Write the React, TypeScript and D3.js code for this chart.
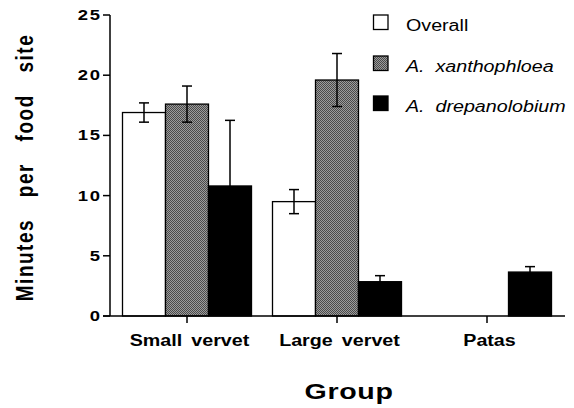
import React from "react";
import * as d3 from "d3";

const categories = ["Small vervet", "Large vervet", "Patas"];
const seriesNames = ["Overall", "A.  xanthophloea", "A.  drepanolobium"];
const overall = [16.9, 9.5, 0];
const overallErr = [0.8, 1.0, 0];
const xanthophloea = [17.6, 19.6, 0];
const xanthophloeaErr = [1.5, 2.2, 0];
const drepanolobium = [10.8, 2.85, 3.65];
const drepanolobiumErr = [5.45, 0.5, 0.45];
const yTicks = [0, 5, 10, 15, 20, 25];

const W = 574;
const H = 408;
const FONT = "'Liberation Sans', Arial, Helvetica, sans-serif";
const SX = 1.23; // horizontal stretch of the scanned original

export default function App() {
  const y = d3.scaleLinear().domain([0, 25]).range([316, 15]);
  const xGroup = d3.scaleBand<string>().domain(categories).range([112, 562]).paddingInner(0).paddingOuter(0);
  const keys = ["o", "x", "d"];
  const subWidth = 129;
  const xSub = d3.scaleBand<string>().domain(keys).range([0, subWidth]);
  const values: Record<string, number[]> = { o: overall, x: xanthophloea, d: drepanolobium };
  const errs: Record<string, number[]> = { o: overallErr, x: xanthophloeaErr, d: drepanolobiumErr };
  const fills: Record<string, string> = { o: "#ffffff", x: "url(#checker)", d: "#000000" };

  const bars: React.ReactNode[] = [];
  const errBars: React.ReactNode[] = [];
  categories.forEach((c, ci) => {
    keys.forEach((k) => {
      const v = values[k][ci];
      if (!v) return;
      const x0 = (xGroup(c) as number) + (xGroup.bandwidth() - subWidth) / 2 + (xSub(k) as number);
      const bw = xSub.bandwidth();
      bars.push(
        <rect key={c + k} x={x0} y={y(v)} width={bw} height={y(0) - y(v)} fill={fills[k]} stroke="#000" strokeWidth={1.3} />
      );
      const e = errs[k][ci];
      if (e) {
        const cx = x0 + bw / 2;
        errBars.push(
          <g key={"e" + c + k} stroke="#000" strokeWidth={1.5}>
            <line x1={cx} x2={cx} y1={y(v + e)} y2={y(v - e)} />
            <line x1={cx - 5} x2={cx + 5} y1={y(v + e)} y2={y(v + e)} />
            <line x1={cx - 5} x2={cx + 5} y1={y(v - e)} y2={y(v - e)} />
          </g>
        );
      }
    });
  });

  const legendY = [15, 56, 96];
  const legendFill = ["#ffffff", "url(#checker)", "#000000"];

  return (
    <svg width={W} height={H} style={{ position: "absolute", left: 0, top: 0, background: "#fff" }} fontFamily={FONT}>
      <defs>
        <pattern id="checker" width={2} height={2} patternUnits="userSpaceOnUse">
          <rect width={2} height={2} fill="#9c9c9c" />
          <rect width={1} height={1} fill="#4a4a4a" />
          <rect x={1} y={1} width={1} height={1} fill="#4a4a4a" />
        </pattern>
      </defs>

      {bars}
      {errBars}

      {/* y axis */}
      <line x1={110} x2={110} y1={y(25)} y2={y(0)} stroke="#000" strokeWidth={1.5} />
      {yTicks.map((t) => (
        <g key={t}>
          <line x1={103} x2={110} y1={y(t)} y2={y(t)} stroke="#000" strokeWidth={1.5} />
          <text
            transform={`translate(100,${y(t)}) scale(${SX},1)`}
            textAnchor="end"
            dominantBaseline="central"
            fontSize={15}
            fontWeight="bold"
            letterSpacing={1.5}
            dx={1.5}
          >
            {t}
          </text>
        </g>
      ))}
      {/* x axis baseline */}
      <line x1={103} x2={565} y1={y(0)} y2={y(0)} stroke="#000" strokeWidth={1.5} />
      {categories.map((c) => {
        const cx = (xGroup(c) as number) + xGroup.bandwidth() / 2;
        return (
          <g key={c}>
            <line x1={cx} x2={cx} y1={y(0)} y2={y(0) + 7} stroke="#000" strokeWidth={1.5} />
            <text
              transform={`translate(${cx + 2.5},346) scale(${SX},1)`}
              textAnchor="middle"
              fontSize={16}
              fontWeight="bold"
              wordSpacing={3}
            >
              {c}
            </text>
          </g>
        );
      })}

      {/* axis titles */}
      <text transform={`translate(349,399) scale(1.3,1)`} textAnchor="middle" fontSize={22} fontWeight="bold" letterSpacing={0.5}>
        Group
      </text>
      <text
        transform={`translate(25,167.5) rotate(-90) scale(1,${SX})`}
        textAnchor="middle"
        dominantBaseline="central"
        fontSize={19}
        fontWeight="bold"
        letterSpacing={1.5}
        wordSpacing={15}
      >
        Minutes per food site
      </text>

      {/* legend */}
      {seriesNames.map((s, i) => (
        <g key={s}>
          <rect x={373.5} y={legendY[i]} width={14.5} height={14.5} fill={legendFill[i]} stroke="#000" strokeWidth={1.3} />
          <text
            transform={`translate(406,${legendY[i] + 16}) scale(${SX},1)`}
            fontSize={16}
            fontStyle={i === 0 ? "normal" : "italic"}
            style={{ whiteSpace: "pre" }}
          >
            {s}
          </text>
        </g>
      ))}
    </svg>
  );
}
